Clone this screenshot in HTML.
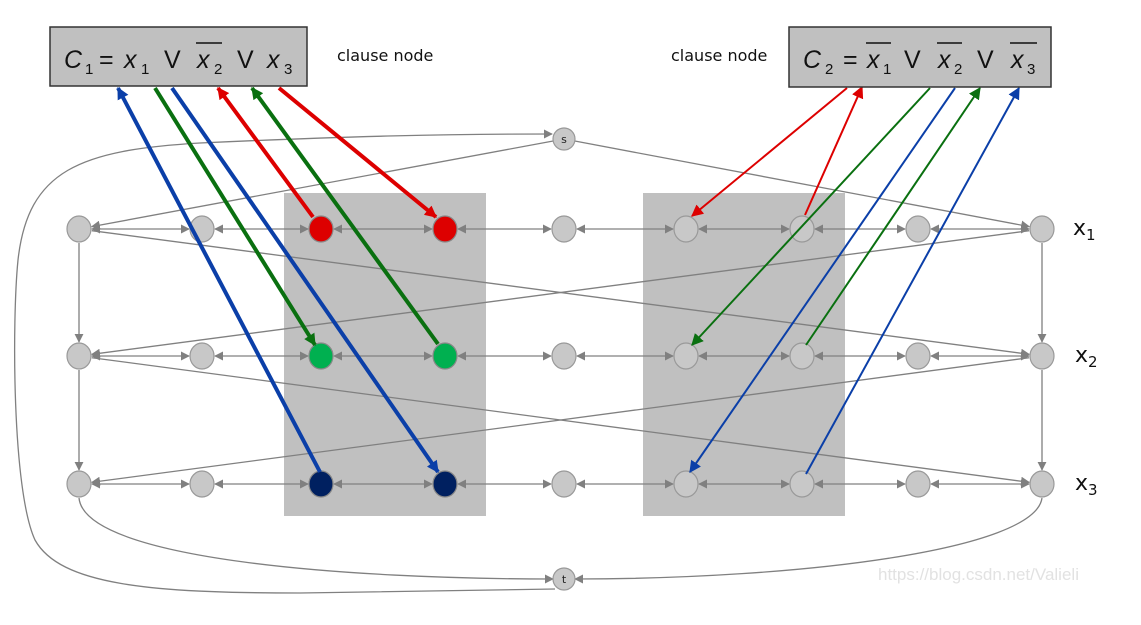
<!DOCTYPE html>
<html><head><meta charset="utf-8">
<style>
html,body{margin:0;padding:0;background:#fff;}
svg{display:block;}
.mi{font-family:"Liberation Sans",sans-serif;font-style:italic;fill:#111;font-size:25px;}
.mn{font-family:"Liberation Sans",sans-serif;fill:#111;font-size:25px;}
.ms{font-family:"Liberation Sans",sans-serif;fill:#111;font-size:15px;}
.lbl{font-family:"DejaVu Sans","Liberation Sans",sans-serif;fill:#111;}
</style></head>
<body>
<svg id="g" width="1141" height="625" viewBox="0 0 1141 625" xmlns="http://www.w3.org/2000/svg">
<defs>
<marker id="ag" viewBox="0 0 10 10" refX="9" refY="5" markerWidth="9" markerHeight="9" markerUnits="userSpaceOnUse" orient="auto-start-reverse"><path d="M0,0L10,5L0,10z" fill="#808080"/></marker>
<marker id="ar" viewBox="0 0 10 10" refX="9" refY="5" markerWidth="12" markerHeight="12" markerUnits="userSpaceOnUse" orient="auto"><path d="M0,0L10,5L0,10z" fill="#dd0000"/></marker>
<marker id="agr" viewBox="0 0 10 10" refX="9" refY="5" markerWidth="12" markerHeight="12" markerUnits="userSpaceOnUse" orient="auto"><path d="M0,0L10,5L0,10z" fill="#0a7010"/></marker>
<marker id="ab" viewBox="0 0 10 10" refX="9" refY="5" markerWidth="12" markerHeight="12" markerUnits="userSpaceOnUse" orient="auto"><path d="M0,0L10,5L0,10z" fill="#0b3fa8"/></marker>
</defs>
<rect x="284" y="193" width="202" height="323" fill="#c0c0c0"/>
<rect x="643" y="193" width="202" height="323" fill="#c0c0c0"/>
<g id="edges"></g>
<g id="nodes"></g>
<g id="lits"></g>
<g>
<rect x="50" y="27" width="257" height="59" fill="#c0c0c0" stroke="#333" stroke-width="1.5"/>
<text class="mi" x="64" y="68">C</text><text class="ms" x="85" y="74">1</text>
<text class="mn" x="99" y="68">=</text>
<text class="mi" x="124" y="68">x</text><text class="ms" x="141" y="74">1</text>
<text class="mn" x="164" y="68">V</text>
<text class="mi" x="197" y="68">x</text><text class="ms" x="214" y="74">2</text>
<line x1="196" y1="43" x2="222" y2="43" stroke="#111" stroke-width="1.5"/>
<text class="mn" x="237" y="68">V</text>
<text class="mi" x="267" y="68">x</text><text class="ms" x="284" y="74">3</text>
</g>
<text class="lbl" x="337" y="61" font-size="16">clause node</text>
<text class="lbl" x="671" y="61" font-size="16">clause node</text>
<g>
<rect x="789" y="27" width="262" height="60" fill="#c0c0c0" stroke="#333" stroke-width="1.5"/>
<text class="mi" x="803" y="68">C</text><text class="ms" x="825" y="74">2</text>
<text class="mn" x="843" y="68">=</text>
<text class="mi" x="867" y="68">x</text><text class="ms" x="883" y="74">1</text>
<line x1="866" y1="43" x2="891" y2="43" stroke="#111" stroke-width="1.5"/>
<text class="mn" x="904" y="68">V</text>
<text class="mi" x="938" y="68">x</text><text class="ms" x="954" y="74">2</text>
<line x1="937" y1="43" x2="962" y2="43" stroke="#111" stroke-width="1.5"/>
<text class="mn" x="977" y="68">V</text>
<text class="mi" x="1011" y="68">x</text><text class="ms" x="1027" y="74">3</text>
<line x1="1010" y1="43" x2="1037" y2="43" stroke="#111" stroke-width="1.5"/>
</g>
<text class="lbl" x="1073" y="235" font-size="22">x<tspan font-size="15" dy="5">1</tspan></text>
<text class="lbl" x="1075" y="362" font-size="22">x<tspan font-size="15" dy="5">2</tspan></text>
<text class="lbl" x="1075" y="490" font-size="22">x<tspan font-size="15" dy="5">3</tspan></text>
<text x="878" y="580" font-size="17" fill="#e2e2e2" font-family="Liberation Sans,sans-serif">https://blog.csdn.net/Valieli</text>
</svg>
<script>
const colX=[79,202,321,445,564,686,802,918,1042];
const rowY=[229,356,484];
const nodeFill=[
 ["#c8c8c8","#c8c8c8","#dd0000","#dd0000","#c8c8c8","#c8c8c8","#c8c8c8","#c8c8c8","#c8c8c8"],
 ["#c8c8c8","#c8c8c8","#00b050","#00b050","#c8c8c8","#c8c8c8","#c8c8c8","#c8c8c8","#c8c8c8"],
 ["#c8c8c8","#c8c8c8","#002060","#002060","#c8c8c8","#c8c8c8","#c8c8c8","#c8c8c8","#c8c8c8"]];
const S=[564,139], T=[564,579];
const NS="http://www.w3.org/2000/svg";
const E=document.getElementById('edges'),N=document.getElementById('nodes'),L=document.getElementById('lits');
function mk(t,a,p){const e=document.createElementNS(NS,t);for(const k in a)e.setAttribute(k,a[k]);p.appendChild(e);return e;}
function sh(x1,y1,x2,y2,r1,r2){const dx=x2-x1,dy=y2-y1,d=Math.hypot(dx,dy);return [x1+dx/d*r1,y1+dy/d*r1,x2-dx/d*r2,y2-dy/d*r2];}
function gline(a,b,both,r1,r2,name){const p=sh(a[0],a[1],b[0],b[1],r1,r2);
 const l=mk('line',{x1:p[0],y1:p[1],x2:p[2],y2:p[3],stroke:'#808080','stroke-width':1.3,'marker-end':'url(#ag)'},E);
 if(both)l.setAttribute('marker-start','url(#ag)');
 
 }
for(let r=0;r<3;r++){
 for(let c=0;c<8;c++) gline([colX[c],rowY[r]],[colX[c+1],rowY[r]],true,13,13,'row-edge');
 if(r<2){gline([colX[0],rowY[r]],[colX[0],rowY[r+1]],false,14,14,'vertical-edge');
  gline([colX[8],rowY[r]],[colX[8],rowY[r+1]],false,14,14,'vertical-edge');
  gline([colX[0],rowY[r]],[colX[8],rowY[r+1]],false,13,13,'cross-edge');
  gline([colX[8],rowY[r]],[colX[0],rowY[r+1]],false,13,13,'cross-edge');}
}
gline(S,[colX[0],rowY[0]],false,11,13,'s-edge-left');
gline(S,[colX[8],rowY[0]],false,11,13,'s-edge-right');
function curve(d,name){const p=mk('path',{d:d,fill:'none',stroke:'#808080','stroke-width':1.3,'marker-end':'url(#ag)'},E);
 
 }
curve(`M${colX[0]},${rowY[2]+14} C85,560 350,579 ${T[0]-11},${T[1]}`,'x3-left-to-t');
curve(`M${colX[8]},${rowY[2]+14} C1035,550 800,579 ${T[0]+11},${T[1]}`,'x3-right-to-t');
curve(`M${T[0]-9},${T[1]+10} L300,593 C150,593 60,585 35,540 C12,490 12,320 18,260 C28,170 80,150 200,143 C350,136 450,134 ${S[0]-12},${S[1]-5}`,'t-to-s-edge');
for(let r=0;r<3;r++)for(let c=0;c<9;c++){
 const e=mk('ellipse',{cx:colX[c],cy:rowY[r],rx:12,ry:13,fill:nodeFill[r][c],stroke:nodeFill[r][c]=="#c8c8c8"?'#999':'#888','stroke-width':1.2},N);
 
 }
[[S,'s','source-node-s'],[T,'t','sink-node-t']].forEach(q=>{
 const e=mk('circle',{cx:q[0][0],cy:q[0][1],r:11,fill:'#c8c8c8',stroke:'#999','stroke-width':1.2},N);
 
 
 const t=mk('text',{x:q[0][0],y:q[0][1]+4,'text-anchor':'middle','font-size':11,'font-family':'DejaVu Sans,sans-serif',fill:'#222'},N);t.textContent=q[1];
 
 });
const lits=[
 [[320,472],[118,88],'#0b3fa8','ab',4],
 [[155,88],[315,345],'#0a7010','agr',4],
 [[172,88],[438,472],'#0b3fa8','ab',4],
 [[313,217],[218,88],'#dd0000','ar',4],
 [[438,344],[252,88],'#0a7010','agr',4],
 [[279,88],[436,217],'#dd0000','ar',4],
 [[847,88],[692,216],'#dd0000','ar',2],
 [[805,215],[862,87],'#dd0000','ar',2],
 [[930,88],[692,345],'#0a7010','agr',2],
 [[955,88],[690,472],'#0b3fa8','ab',2],
 [[806,345],[980,88],'#0a7010','agr',2],
 [[806,474],[1019,88],'#0b3fa8','ab',2]];
lits.forEach(a=>{const l=mk('line',{x1:a[0][0],y1:a[0][1],x2:a[1][0],y2:a[1][1],stroke:a[2],'stroke-width':a[4],'marker-end':`url(#${a[3]})`},L);
 
 });
</script>
</body></html>
